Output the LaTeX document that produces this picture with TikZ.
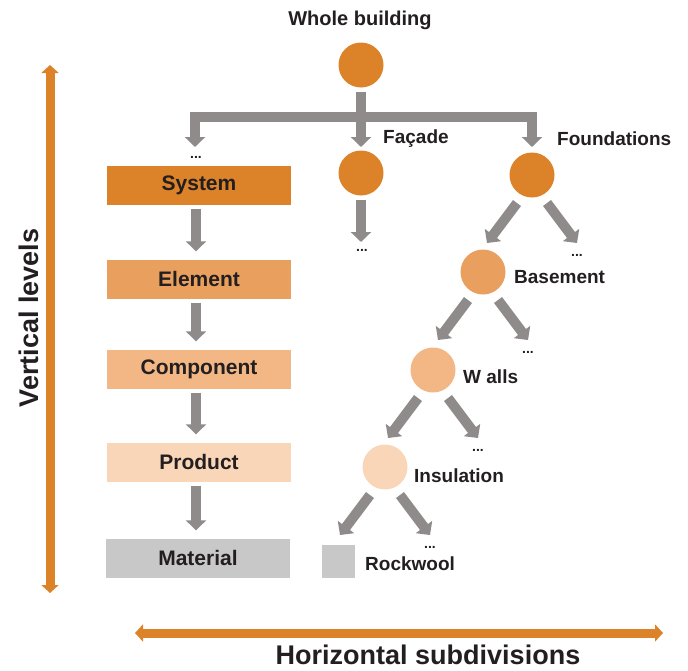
\documentclass[tikz,border=0pt]{standalone}
\usepackage{fontspec}
\setmainfont{Liberation Sans}
\usetikzlibrary{arrows.meta}
\definecolor{orngD}{RGB}{220,130,40}
\definecolor{orngE}{RGB}{233,160,94}
\definecolor{orngC}{RGB}{242,183,132}
\definecolor{orngP}{RGB}{250,214,184}
\definecolor{matgray}{RGB}{200,200,200}
\definecolor{arrgray}{RGB}{143,139,139}
\definecolor{txt}{RGB}{35,31,32}
\begin{document}
\begin{tikzpicture}[x=1pt,y=-1pt,
  garrow/.style={draw=arrgray, line width=10pt, -{Triangle[width=20pt,length=10pt]}},
  gbar/.style={draw=arrgray, line width=10pt, line join=miter, {Triangle[width=20pt,length=10pt]}-{Triangle[width=20pt,length=10pt]}},
  oarrow/.style={draw=orngD, line width=9pt, {Triangle[width=17pt,length=8pt]}-{Triangle[width=17pt,length=8pt]}},
  lvl/.style={rectangle, minimum width=184pt, minimum height=39pt, inner sep=0pt, text=txt, font=\fontsize{21}{24}\selectfont\bfseries},
  blob/.style={circle, minimum size=45pt, inner sep=0pt},
  lbl/.style={anchor=west, inner sep=0pt, text=txt, font=\fontsize{19}{22}\selectfont\bfseries},
  dots/.style={inner sep=0pt, text=txt, font=\fontsize{14}{16}\selectfont\bfseries},
  big/.style={inner sep=0pt, text=txt, font=\fontsize{27}{30}\selectfont\bfseries},
]
\useasboundingbox (0,0) rectangle (688,670);

% axes
\coordinate (vtop) at (50,65);
\coordinate (vbot) at (50,593);
\draw[oarrow] (vtop) -- (vbot);
\node[big, rotate=90] (vlab) at (29,318) {Vertical levels};
\coordinate (hl) at (135,633);
\coordinate (hr) at (663,633);
\draw[oarrow] (hl) -- (hr);
\node[big] (hlab) at (428,655) {Horizontal subdivisions};

% level boxes
\node[lvl, fill=orngD] (sys) at (199,185) {System};
\node[lvl, fill=orngE] (ele) at (199,279) {Element};
\node[lvl, fill=orngC] (com) at (199,369) {Component};
\node[lvl, fill=orngP] (pro) at (199,462) {Product};
\node[lvl, fill=matgray] (mat) at (198,558) {Material};
\foreach \a/\b in {sys/ele, ele/com, com/pro, pro/mat}
  \draw[garrow, shorten <=4pt, shorten >=8pt] ([xshift=-3pt]\a.south) -- ([xshift=-3pt]\a.south |- \b.north);

% tree
\node[txt, inner sep=0pt, font=\fontsize{20}{24}\selectfont\bfseries] (wb) at (360,20) {Whole building};
\node[blob, fill=orngD] (root) at (361,65) {};
\coordinate (sysTip) at (195,147);
\coordinate (barL) at (195,116.5);
\coordinate (barR) at (532,116.5);
\coordinate (fouTip) at (532,147);
\coordinate (facTip) at (361,147);
\draw[gbar] (sysTip) -- (barL) -- (barR) -- (fouTip);
\draw[garrow, shorten <=4pt] (root.south) -- (facTip);
\node[dots] (sysdots) at (196,157) {...};

\node[blob, fill=orngD] (fac) at (361,173) {};
\node[lbl] (facl) at (383,139) {Façade};
\coordinate (facDot) at (361,242);
\draw[garrow, shorten <=4pt] (fac.south) -- (facDot);
\node[dots] (facdots) at (362,250) {...};

\node[blob, fill=orngD] (fou) at (532,175) {};
\node[lbl] (foul) at (557,139) {Foundations};

\node[blob, fill=orngE] (bas) at (483,272) {};
\node[lbl] (basl) at (514,277) {Basement};
\node[blob, fill=orngC] (wal) at (433,370) {};
\node[lbl] (wall) at (463,377) {W alls};
\node[blob, fill=orngP] (ins) at (385,467) {};
\node[lbl] (insl) at (414,476) {Insulation};
\node[rectangle, fill=matgray, minimum size=33pt, inner sep=0pt] (rock) at (338.5,561.5) {};
\node[lbl] (rockl) at (365,564) {Rockwool};

\foreach \n in {fou, bas, wal, ins} {
  \draw[garrow] ([shift={(-15,28)}]\n.center) -- ([shift={(-45,68)}]\n.center);
  \draw[garrow] ([shift={(15,28)}]\n.center) -- ([shift={(45,68)}]\n.center);
  \node[dots] at ([shift={(45,80)}]\n.center) {...};
}
\end{tikzpicture}
\end{document}
